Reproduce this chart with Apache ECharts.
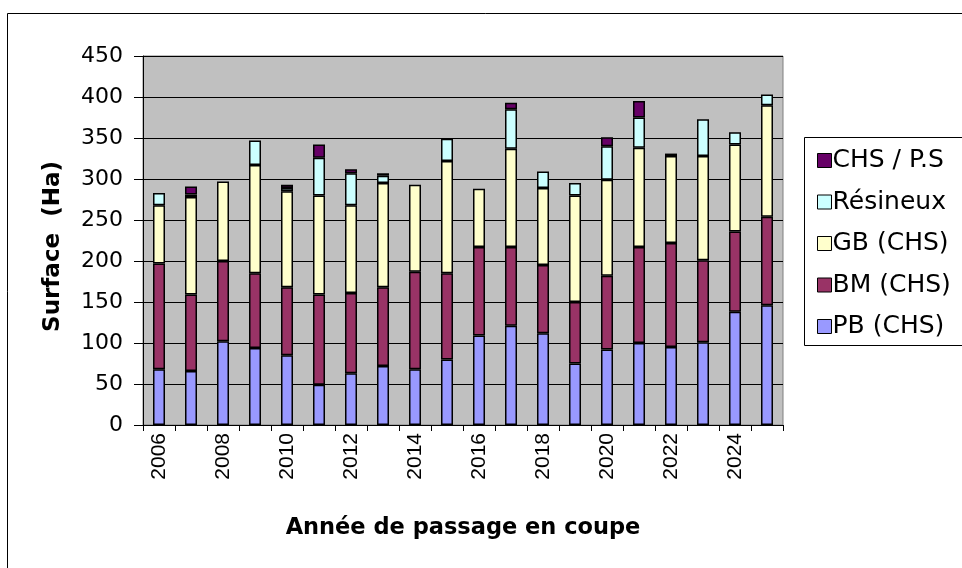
<!DOCTYPE html>
<html>
<head>
<meta charset="utf-8">
<script src="https://cdn.jsdelivr.net/npm/echarts@6/dist/echarts.min.js"></script>
<style>
  html, body { margin: 0; padding: 0; background: #fff; }
  #chart { width: 962px; height: 568px; }
</style>
</head>
<body>
<div id="chart"></div>
<script>
// Harvested surface per year, split by product class (hectares)
const years = ['2006','2007','2008','2009','2010','2011','2012','2013','2014','2015',
               '2016','2017','2018','2019','2020','2021','2022','2023','2024','2025'];
const pbCHS = [68, 66, 102, 94, 85, 49, 63, 72, 68, 80, 109, 121, 112, 75, 92, 100, 95, 101, 138, 146];
const bmCHS = [129, 93, 98, 91, 83, 110, 98, 96, 119, 105, 108, 96, 83, 75, 90, 117, 127, 100, 98, 108];
const gbCHS = [71, 119, 97, 132, 117, 121, 107, 127, 106, 137, 71, 120, 94, 130, 117, 121, 106, 127, 106, 136];
const resineux = [15, 3, null, 30, 4, 46, 39, 9, null, 27, null, 48, 20, 15, 41, 37, null, 45, 15, 13];
const chsPS = [null, 10, null, null, 4, 16, 5, 3, null, null, null, 8, null, null, 11, 20, 3, null, null, null];
const yTicks = { min: 0, max: 450, interval: 50 };

const seriesDefs = [
  { name: 'PB (CHS)', data: pbCHS, color: '#9999FF' },
  { name: 'BM (CHS)', data: bmCHS, color: '#993366' },
  { name: 'GB (CHS)', data: gbCHS, color: '#FFFFCC' },
  { name: 'Résineux', data: resineux, color: '#CCFFFF' },
  { name: 'CHS / P.S', data: chsPS, color: '#660066' }
];

const wide = '"DejaVu Sans", Verdana, sans-serif';
const narrow = '"Liberation Sans", Arial, sans-serif';
const chart = echarts.init(document.getElementById('chart'), null, { renderer: 'canvas' });

chart.setOption({
  animation: false,
  backgroundColor: '#ffffff',
  graphic: [
    { type: 'rect', shape: { x: 7.5, y: 13.5, width: 1000, height: 1000 },
      style: { fill: 'none', stroke: '#000', lineWidth: 1 }, z: 0 },
    { type: 'rect', shape: { x: 804.5, y: 137.5, width: 200, height: 208 },
      style: { fill: '#fff', stroke: '#000', lineWidth: 1 }, z: 1 }
  ],
  grid: {
    left: 143, right: 179, top: 56, bottom: 143,
    show: true, backgroundColor: '#C0C0C0', borderColor: '#808080', borderWidth: 1
  },
  legend: {
    orient: 'vertical',
    left: 812, top: 143,
    itemWidth: 14, itemHeight: 14, itemGap: 16.5,
    icon: 'rect',
    data: seriesDefs.map(s => s.name).reverse(),
    itemStyle: { borderColor: '#000', borderWidth: 1 },
    textStyle: { fontFamily: wide, fontSize: 25, lineHeight: 25, color: '#000', padding: [0, 0, 0, -4] },
    z: 5
  },
  xAxis: {
    type: 'category',
    data: years,
    boundaryGap: true,
    name: 'Année de passage en coupe',
    nameLocation: 'middle',
    nameGap: 92,
    nameTextStyle: { fontFamily: wide, fontSize: 22.5, fontWeight: 'bold', color: '#000' },
    axisLine: { show: true, lineStyle: { color: '#000', width: 1 } },
    axisTick: { show: true, length: 6, interval: 0, lineStyle: { color: '#000' } },
    axisLabel: {
      interval: 1, rotate: 90, margin: 8,
      fontFamily: narrow, fontSize: 21, color: '#000'
    },
    splitLine: { show: false }
  },
  yAxis: {
    type: 'value',
    min: yTicks.min, max: yTicks.max, interval: yTicks.interval,
    name: 'Surface  (Ha)',
    nameLocation: 'middle',
    nameGap: 78,
    nameRotate: 90,
    nameTextStyle: { fontFamily: wide, fontSize: 23, fontWeight: 'bold', color: '#000', padding: [0, 12, 0, 0] },
    axisLine: { show: true, lineStyle: { color: '#000', width: 1 } },
    axisTick: { show: true, length: 9, lineStyle: { color: '#000' } },
    axisLabel: { margin: 20, fontFamily: wide, fontSize: 22, color: '#000' },
    splitLine: { show: true, lineStyle: { color: '#000', width: 1 } }
  },
  series: seriesDefs.map(s => ({
    name: s.name,
    type: 'bar',
    stack: 'surface',
    barWidth: 12,
    data: s.data,
    itemStyle: { color: s.color, borderColor: '#000', borderWidth: 1.5 }
  }))
});
</script>
</body>
</html>
